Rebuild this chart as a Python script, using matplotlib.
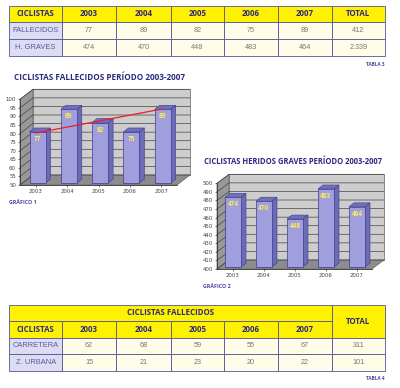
import matplotlib
matplotlib.use("Agg")
import matplotlib.pyplot as plt
from matplotlib.patches import Polygon, Rectangle

years = ["2003", "2004", "2005", "2006", "2007"]

# tabla 3
t3_header = ["CICLISTAS"] + years + ["TOTAL"]
t3_rows = ["FALLECIDOS", "H. GRAVES"]
t3_vals = [["77", "89", "82", "75", "89", "412"],
           ["474", "470", "448", "483", "464", "2.339"]]

# tabla 4
t4_title = "CICLISTAS FALLECIDOS"
t4_header = ["CICLISTAS"] + years
t4_rows = ["CARRETERA", "Z. URBANA"]
t4_vals = [["62", "68", "59", "55", "67", "311"],
           ["15", "21", "23", "20", "22", "101"]]

# graficos
g1_labels = ["77", "89", "82", "75", "89"]
g1_heights = [77, 89, 82, 77, 89]  # como se ven en la imagen
g1_ticks = list(range(50, 101, 5))
g2_labels = ["474", "470", "448", "483", "464"]
g2_heights = [474, 470, 451, 483, 464]
g2_ticks = list(range(400, 501, 10))

YELLOW = "#fff200"
CREAM = "#fffde8"
LILAC = "#dcdcf2"
NAVY = "#2b2a80"
LINE = "#55559a"
FONT = "Open Sans"
SANS = "Liberation Sans"

W, H = 400, 388
fig = plt.figure(figsize=(W / 100, H / 100), dpi=100, facecolor="white")
bg = fig.add_axes([0, 0, 1, 1])
bg.set_xlim(0, W)
bg.set_ylim(H, 0)
bg.axis("off")

col_x = [9.3, 62, 116, 171, 224, 278, 332, 385]


def cell(x0, x1, y0, y1, color, text="", bold=True, tcolor=NAVY, size=5.7, family=FONT):
    bg.add_patch(Rectangle((x0, y0), x1 - x0, y1 - y0, fc=color, ec=LINE, lw=0.6))
    if text:
        bg.text((x0 + x1) / 2, (y0 + y1) / 2, text, ha="center", va="center", fontsize=size,
                color=tcolor, family=family, fontweight="bold" if bold else "normal")


def data_rows(names, vals, y):
    for i in range(len(names)):
        y0, y1 = y[i], y[i + 1]
        cell(col_x[0], col_x[1], y0, y1, LILAC, names[i], False, "#5a5a9c", 5.4, SANS)
        for j in range(len(vals[i])):
            cell(col_x[j + 1], col_x[j + 2], y0, y1, CREAM, vals[i][j], False, "#777777", 5.2, SANS)


# tabla 3
for j in range(len(t3_header)):
    cell(col_x[j], col_x[j + 1], 5.7, 22.3, YELLOW, t3_header[j])
data_rows(t3_rows, t3_vals, [22.3, 39, 56])
bg.text(385, 64, "TABLA 3", ha="right", va="center", fontsize=3.4, color="#4a4aa0", family=FONT, fontweight="bold")

# tabla 4
cell(col_x[0], col_x[6], 304.5, 321, YELLOW, t4_title)
cell(col_x[6], col_x[7], 304.5, 337.5, YELLOW, "TOTAL")
for j in range(len(t4_header)):
    cell(col_x[j], col_x[j + 1], 321, 337.5, YELLOW, t4_header[j])
data_rows(t4_rows, t4_vals, [337.5, 354, 371])
bg.text(385, 379, "TABLA 4", ha="right", va="center", fontsize=3.4, color="#4a4aa0", family=FONT, fontweight="bold")


def px_axes(x0, x1, ytop, ybot):
    return fig.add_axes([x0 / W, 1 - ybot / H, (x1 - x0) / W, (ybot - ytop) / H])


def chart_3d(left, right, ytop, ybot, dx, dy, ticks, heights, labels, bar_base, px_per_unit, bar_left, bar_step, bar_w):
    # paredes del fondo en pixeles
    bg.add_patch(Polygon([(left + dx, ytop + dy), (right + dx, ytop + dy), (right + dx, ybot + dy), (left + dx, ybot + dy)],
                         fc="#cdcdcd", ec="#666666", lw=0.5, zorder=2))
    bg.add_patch(Polygon([(left, ytop), (left + dx, ytop + dy), (left + dx, ybot + dy), (left, ybot)],
                         fc="#999999", ec="#666666", lw=0.5, zorder=2))
    bg.add_patch(Polygon([(left, ybot), (left + dx, ybot + dy), (right + dx, ybot + dy), (right, ybot)],
                         fc="#8c8c8c", ec="#666666", lw=0.5, zorder=2))
    step = (ybot - ytop) / (len(ticks) - 1)
    for i in range(len(ticks)):
        y = ybot - i * step
        bg.plot([left, left + dx, right + dx], [y, y + dy, y + dy], color="#444444", lw=0.5, zorder=3)

    # eje de valores, plano frontal
    ax = px_axes(left, right, ytop, ybot)
    ax.patch.set_alpha(0)
    ax.set_ylim(ticks[0], ticks[-1])
    ax.set_xlim(0, 5)
    ax.set_yticks(ticks)
    ax.set_xticks([0.5, 1.5, 2.5, 3.5, 4.5])
    ax.set_xticklabels(years)
    ax.tick_params(axis="both", labelsize=3.9, length=1.5, width=0.5, pad=1.3, colors="#444444")
    for s in ["top", "right"]:
        ax.spines[s].set_visible(False)
    for s in ["left", "bottom"]:
        ax.spines[s].set_linewidth(0.6)
        ax.spines[s].set_color("#333333")

    # barras
    for i in range(len(heights)):
        x0 = bar_left + i * bar_step
        x1 = x0 + bar_w
        yb = ybot - 2
        yt = yb - (heights[i] - bar_base) * px_per_unit
        d = 5
        e = 4
        bg.add_patch(Polygon([(x1, yb), (x1 + d, yb - e), (x1 + d, yt - e), (x1, yt)],
                             fc="#6c6cb4", ec="#3a3a90", lw=0.4, zorder=4))
        bg.add_patch(Polygon([(x0, yt), (x0 + d, yt - e), (x1 + d, yt - e), (x1, yt)],
                             fc="#7070ba", ec="#3a3a90", lw=0.4, zorder=4))
        bg.add_patch(Rectangle((x0, yt), bar_w, yb - yt, fc="#a09edc", ec="#3a3a90", lw=0.5, zorder=5))
        bg.text((x0 + x1) / 2, yt + 7.5, labels[i], ha="center", va="center", fontsize=4.8,
                color="#fff24a", fontweight="bold", family=SANS, zorder=7)


chart_3d(20, 177, 99.3, 185, 13, -10, g1_ticks, g1_heights, g1_labels, 50, 1.89, 29.5, 31.3, 16)
chart_3d(217, 372, 183.3, 269, 12, -9, g2_ticks, g2_heights, g2_labels, 400, 0.94, 225, 31, 16)

# linea roja grafico 1
bg.plot([36, 162], [133, 109], color="#e8202a", lw=0.9, zorder=6)

bg.text(14, 78, "CICLISTAS FALLECIDOS PERÍODO 2003-2007", fontsize=5.9, color=NAVY, family=FONT,
        fontweight="bold", va="center")
bg.text(204, 162, "CICLISTAS HERIDOS GRAVES PERÍODO 2003-2007", fontsize=5.5, color=NAVY, family=FONT,
        fontweight="bold", va="center")
bg.text(9, 202.5, "GRÁFICO 1", fontsize=3.9, color="#4a4aa0", family=FONT, fontweight="bold", va="center")
bg.text(203, 286, "GRÁFICO 2", fontsize=3.9, color="#4a4aa0", family=FONT, fontweight="bold", va="center")

fig.savefig("out.png", dpi=100)
